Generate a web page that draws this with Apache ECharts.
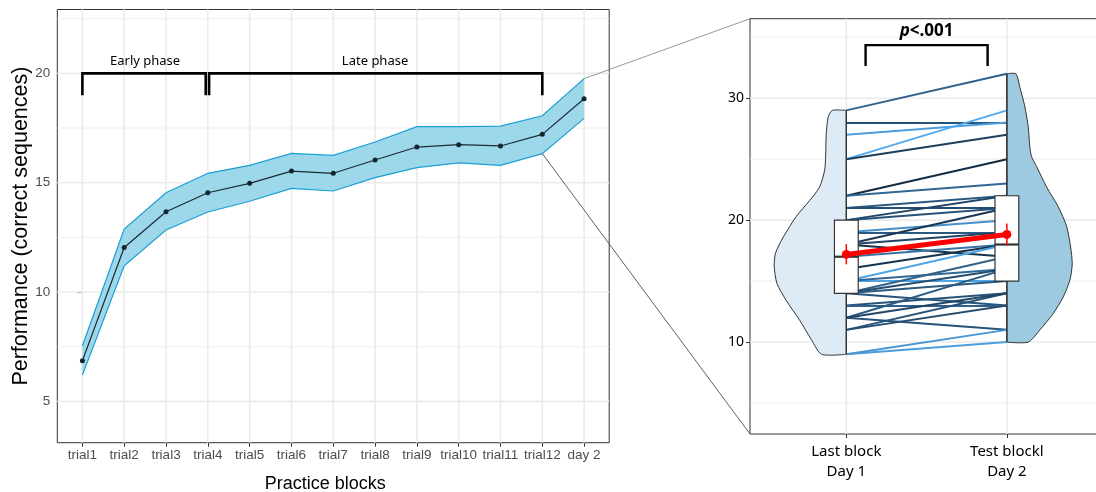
<!DOCTYPE html>
<html>
<head>
<meta charset="utf-8">
<script src="https://cdn.jsdelivr.net/npm/echarts@6/dist/echarts.min.js"></script>
<style>html,body{margin:0;padding:0;background:#fff}#c{width:1096px;height:492px}</style>
</head>
<body>
<div id="c"></div>
<script>
// ---------- Left panel data ----------
const blocks = ['trial1','trial2','trial3','trial4','trial5','trial6','trial7','trial8','trial9','trial10','trial11','trial12','day 2'];
const meanPerf  = [6.86, 12.04, 13.67, 14.54, 14.97, 15.53, 15.43, 16.04, 16.63, 16.74, 16.68, 17.21, 18.84];
const upperPerf = [7.53, 12.88, 14.54, 15.43, 15.79, 16.34, 16.25, 16.86, 17.56, 17.56, 17.59, 18.06, 19.76];
const lowerPerf = [6.20, 11.20, 12.84, 13.66, 14.15, 14.74, 14.62, 15.23, 15.69, 15.91, 15.79, 16.33, 17.94];
const leftYMajor = [5, 10, 15, 20];
const leftYMinor = [7.5, 12.5, 17.5, 22.5];
const phaseNames = ['Early phase', 'Late phase'];
const phaseFrom = [0, 3];     // block index
const phaseTo   = [3, 11];
const phaseTop = 20, phaseBottom = 19, phaseLabelY = 20.56;

// ---------- Right panel data ----------
const sessions = ['Last block\nDay 1', 'Test blockl\nDay 2'];
const day1 = [29, 28, 27, 25, 25, 22, 22, 21, 21, 20, 20, 19, 19, 18, 18, 18, 17, 16, 15, 15, 15, 14, 14, 14, 14, 13, 13, 12, 12, 11, 11, 12, 9, 9];
const day2 = [32, 28, 28, 29, 27, 25, 23, 22, 21, 22, 21, 20, 19, 21, 19, 17, 18, 18, 18, 15, 16, 17, 16, 13, 15, 14, 13, 16, 11, 14, 13, 14, 10, 11];
const pairShade = [0.40, 0.30, 0.85, 0.95, 0.15, 0.00, 0.45, 0.35, 0.25, 0.20, 0.30, 0.75, 0.35, 0.10, 0.20, 0.05, 0.55, 0.05, 0.90, 0.90, 0.45, 0.40, 0.25, 0.30, 0.35, 0.30, 0.40, 0.35, 0.30, 0.30, 0.25, 0.20, 0.85, 0.80];
const violin1Y = [29.0, 28.5, 27.1, 25.2, 24.1, 22.7, 21.6, 20.3, 18.6, 17.3, 16.2, 14.8, 13.4, 11.8, 10.2, 9.0];
const violin1W = [0.087, 0.112, 0.125, 0.129, 0.135, 0.167, 0.229, 0.312, 0.393, 0.441, 0.449, 0.432, 0.374, 0.291, 0.218, 0.154];
const violin2Y = [32.0, 30.9, 29.3, 27.65, 26.0, 25.2, 24.4, 22.7, 21.1, 19.5, 17.8, 16.4, 15.1, 13.7, 12.35, 11.0, 10.0];
const violin2W = [0.056, 0.081, 0.112, 0.133, 0.143, 0.154, 0.185, 0.248, 0.320, 0.372, 0.397, 0.407, 0.393, 0.351, 0.289, 0.206, 0.133];
const boxQ1 = [14, 15], boxMed = [17, 18], boxQ3 = [20, 22];
const whiskerLo = [9, 10], whiskerHi = [29, 32];
const sessionMean = [17.19, 18.83];
const sessionCiLow = [16.37, 17.95];
const sessionCiHigh = [18.03, 19.73];
const rightYMajor = [10, 20, 30];
const rightYMinor = [5, 15, 25, 35];
const pText = 'p<.001';
const pFrom = 1.12, pTo = 1.88, pTop = 34.35, pBottom = 32.65, pLabelY = 35.52;

// ---------- styling / layout ----------
const L = {left: 57.3, top: 9.5, width: 551.9, height: 433.2, xmin: -0.6, xmax: 12.6, ymin: 3.11, ymax: 22.92};
const R = {left: 750, top: 18.7, width: 353.2, height: 415.3, xmin: 0.4, xmax: 2.6, ymin: 2.46, ymax: 36.52};
const GRID = '#EBEBEB';
function shade(c) {
  const a = [19, 43, 67], b = [86, 177, 247];
  return 'rgb(' + a.map((v, i) => Math.round(v + (b[i] - v) * c)).join(',') + ')';
}
function hGrid(gi, major, minor) {
  return {
    type: 'custom', xAxisIndex: gi, yAxisIndex: gi, z: 1, silent: true,
    data: major.map(v => [0, v, 1]).concat(minor.map(v => [0, v, 0])),
    encode: {x: 0, y: 1},
    renderItem: (params, api) => {
      const cs = params.coordSys;
      const y = api.coord([api.value(0), api.value(1)])[1];
      return {type: 'line', shape: {x1: cs.x, y1: y, x2: cs.x + cs.width, y2: y},
        style: {stroke: GRID, lineWidth: api.value(2) ? 1.6 : 0.8}};
    }
  };
}
function vGrid(gi, xs, yRef) {
  return {
    type: 'custom', xAxisIndex: gi, yAxisIndex: gi, z: 1, silent: true,
    data: xs.map(x => [x, yRef]),
    encode: {x: 0, y: 1},
    renderItem: (params, api) => {
      const cs = params.coordSys;
      const x = api.coord([api.value(0), api.value(1)])[0];
      return {type: 'line', shape: {x1: x, y1: cs.y, x2: x, y2: cs.y + cs.height},
        style: {stroke: GRID, lineWidth: 1.6}};
    }
  };
}
const idx = blocks.map((b, i) => i);
const sessIdx = sessions.map((s, i) => i + 1);

const chart = echarts.init(document.getElementById('c'), null, {renderer: 'canvas'});
const option = {
  animation: false,
  backgroundColor: '#fff',
  grid: [
    {left: L.left, top: L.top, width: L.width, height: L.height, outerBoundsMode: 'none', containLabel: false, show: true, borderColor: '#333', borderWidth: 1, backgroundColor: '#fff'},
    {left: R.left, top: R.top, width: R.width, height: R.height, outerBoundsMode: 'none', containLabel: false, show: true, borderColor: '#333', borderWidth: 1, backgroundColor: '#fff'}
  ],
  xAxis: [
    {type: 'value', gridIndex: 0, min: L.xmin, max: L.xmax,
      name: 'Practice blocks', nameLocation: 'middle', nameGap: 32, nameMoveOverlap: false,
      nameTextStyle: {fontFamily: 'Liberation Sans', fontSize: 18, color: '#000', padding: [0, 16, 0, 0]},
      axisLine: {show: false}, splitLine: {show: false},
      axisTick: {show: true, length: 4, customValues: idx, lineStyle: {color: '#333'}},
      axisLabel: {customValues: idx, margin: 6, formatter: v => blocks[Math.round(v)], fontFamily: 'Liberation Sans', fontSize: 13.5, color: '#4D4D4D'}},
    {type: 'value', gridIndex: 1, min: R.xmin, max: R.xmax,
      axisLine: {show: false}, splitLine: {show: false},
      axisTick: {show: true, length: 4, customValues: sessIdx, lineStyle: {color: '#333'}},
      axisLabel: {customValues: sessIdx, margin: 8, formatter: v => sessions[Math.round(v) - 1], fontFamily: 'Noto Sans', fontSize: 15, lineHeight: 19.5, color: '#000', align: 'center'}}
  ],
  yAxis: [
    {type: 'value', gridIndex: 0, min: L.ymin, max: L.ymax,
      name: 'Performance (correct sequences)', nameLocation: 'middle', nameGap: 25.5, nameMoveOverlap: false,
      nameTextStyle: {fontFamily: 'Liberation Sans', fontSize: 21.5, color: '#000'},
      axisLine: {show: false}, splitLine: {show: false},
      axisTick: {show: true, length: 5, customValues: leftYMajor, lineStyle: {color: '#333'}},
      axisLabel: {customValues: leftYMajor, margin: 7, fontFamily: 'Liberation Sans', fontSize: 13.5, color: '#4D4D4D'}},
    {type: 'value', gridIndex: 1, min: R.ymin, max: R.ymax,
      axisLine: {show: false}, splitLine: {show: false},
      axisTick: {show: true, length: 4, customValues: rightYMajor, lineStyle: {color: '#333'}},
      axisLabel: {customValues: rightYMajor, margin: 6, fontFamily: 'Noto Sans', fontSize: 14, color: '#000'}}
  ],
  series: [
    hGrid(0, leftYMajor, leftYMinor),
    vGrid(0, idx, 10),
    hGrid(1, rightYMajor, rightYMinor),
    vGrid(1, sessIdx, 20),
    // confidence band
    {type: 'custom', xAxisIndex: 0, yAxisIndex: 0, z: 3, silent: true,
      data: [[0, meanPerf[0]]], encode: {x: 0, y: 1},
      renderItem: (params, api) => {
        const up = idx.map(i => api.coord([i, upperPerf[i]]));
        const lo = idx.map(i => api.coord([i, lowerPerf[i]]));
        return {type: 'group', children: [
          {type: 'polygon', shape: {points: up.concat(lo.slice().reverse())}, style: {fill: '#9DD7EA', stroke: null}},
          {type: 'polyline', shape: {points: up}, style: {stroke: '#1A9FD6', lineWidth: 1.2, fill: null}},
          {type: 'polyline', shape: {points: lo}, style: {stroke: '#1A9FD6', lineWidth: 1.2, fill: null}}
        ]};
      }},
    {type: 'line', xAxisIndex: 0, yAxisIndex: 0, z: 4, silent: true,
      data: idx.map(i => [i, meanPerf[i]]),
      symbol: 'circle', symbolSize: 5, showSymbol: true,
      lineStyle: {color: '#1C2B36', width: 1.2}, itemStyle: {color: '#15252F'}},
    // phase brackets
    {type: 'custom', xAxisIndex: 0, yAxisIndex: 0, z: 5, silent: true,
      data: phaseNames.map((n, i) => [phaseFrom[i], phaseTop]), encode: {x: 0, y: 1},
      renderItem: (params, api) => {
        const i = params.dataIndex;
        const s = phaseFrom[i] + (i > 0 ? 0.03 : 0);
        const e = phaseTo[i] - (i < phaseNames.length - 1 ? 0.05 : 0);
        const pts = [[s, phaseBottom], [s, phaseTop], [e, phaseTop], [e, phaseBottom]].map(p => api.coord(p));
        const t = api.coord([(phaseFrom[i] + phaseTo[i]) / 2, phaseLabelY]);
        return {type: 'group', children: [
          {type: 'polyline', shape: {points: pts}, style: {stroke: '#000', lineWidth: 2.6, fill: null}},
          {type: 'text', x: t[0], y: t[1], style: {text: phaseNames[i], fontFamily: 'Noto Sans', fontSize: 13, fill: '#000', align: 'center', verticalAlign: 'middle'}}
        ]};
      }},
    // violins
    {type: 'custom', xAxisIndex: 1, yAxisIndex: 1, z: 3, silent: true,
      data: [[1, 20], [2, 20]], encode: {x: 0, y: 1},
      renderItem: (params, api) => {
        const i = params.dataIndex;
        const ys = i === 0 ? violin1Y : violin2Y;
        const ws = i === 0 ? violin1W : violin2W;
        const side = i === 0 ? -1 : 1;
        const cx = i + 1;
        const pts = [api.coord([cx, ys[0]])];
        ys.forEach((y, k) => pts.push(api.coord([cx + side * ws[k], y])));
        pts.push(api.coord([cx, ys[ys.length - 1]]));
        return {type: 'group', children: [
          {type: 'polyline', shape: {points: pts, smooth: 0.25}, style: {fill: i === 0 ? '#DEEBF7' : '#9ECAE1', stroke: '#333', lineWidth: 1}},
          {type: 'line', shape: {x1: pts[0][0], y1: pts[0][1], x2: pts[pts.length - 1][0], y2: pts[pts.length - 1][1]}, style: {stroke: '#333', lineWidth: 1.2}}
        ]};
      }},
    // paired lines
    {type: 'lines', coordinateSystem: 'cartesian2d', xAxisIndex: 1, yAxisIndex: 1, z: 4, silent: true,
      data: day1.map((v, k) => ({coords: [[1, v], [2, day2[k]]], lineStyle: {color: shade(pairShade[k])}})),
      lineStyle: {width: 2, opacity: 1}},
    // boxes
    {type: 'custom', xAxisIndex: 1, yAxisIndex: 1, z: 5, silent: true,
      data: [[1, boxMed[0]], [2, boxMed[1]]], encode: {x: 0, y: 1},
      renderItem: (params, api) => {
        const i = params.dataIndex, cx = i + 1, hw = 0.074;
        const a = api.coord([cx - hw, boxQ3[i]]), b = api.coord([cx + hw, boxQ1[i]]);
        const m1 = api.coord([cx - hw, boxMed[i]]), m2 = api.coord([cx + hw, boxMed[i]]);
        const wl = api.coord([cx, whiskerLo[i]]), wh = api.coord([cx, whiskerHi[i]]);
        return {type: 'group', children: [
          {type: 'line', shape: {x1: wh[0], y1: wh[1], x2: wh[0], y2: a[1]}, style: {stroke: '#333', lineWidth: 1.2}},
          {type: 'line', shape: {x1: wl[0], y1: wl[1], x2: wl[0], y2: b[1]}, style: {stroke: '#333', lineWidth: 1.2}},
          {type: 'rect', shape: {x: a[0], y: a[1], width: b[0] - a[0], height: b[1] - a[1]}, style: {fill: '#fff', stroke: '#333', lineWidth: 1.2}},
          {type: 'line', shape: {x1: m1[0], y1: m1[1], x2: m2[0], y2: m2[1]}, style: {stroke: '#333', lineWidth: 2.2}}
        ]};
      }},
    // error bars of the mean
    {type: 'custom', xAxisIndex: 1, yAxisIndex: 1, z: 6, silent: true,
      data: [[1, sessionMean[0]], [2, sessionMean[1]]], encode: {x: 0, y: 1},
      renderItem: (params, api) => {
        const i = params.dataIndex;
        const lo = api.coord([i + 1, sessionCiLow[i]]), hi = api.coord([i + 1, sessionCiHigh[i]]);
        return {type: 'line', shape: {x1: lo[0], y1: lo[1], x2: hi[0], y2: hi[1]}, style: {stroke: '#FF0000', lineWidth: 1.5}};
      }},
    {type: 'line', xAxisIndex: 1, yAxisIndex: 1, z: 7, silent: true,
      data: sessionMean.map((m, i) => [i + 1, m]),
      symbol: 'circle', symbolSize: 9, showSymbol: true,
      lineStyle: {color: '#FF0000', width: 5}, itemStyle: {color: '#FF0000'}},
    // significance bracket
    {type: 'custom', xAxisIndex: 1, yAxisIndex: 1, z: 7, silent: true,
      data: [[1.5, pTop]], encode: {x: 0, y: 1},
      renderItem: (params, api) => {
        const pts = [[pFrom, pBottom], [pFrom, pTop], [pTo, pTop], [pTo, pBottom]].map(p => api.coord(p));
        const t = api.coord([(pFrom + pTo) / 2, pLabelY]);
        return {type: 'group', children: [
          {type: 'polyline', shape: {points: pts}, style: {stroke: '#000', lineWidth: 2.4, fill: null}},
          {type: 'text', x: t[0], y: t[1], style: {text: '{i|' + pText.slice(0, 1) + '}{b|' + pText.slice(1) + '}', align: 'center', verticalAlign: 'middle',
            rich: {i: {fontFamily: 'Noto Sans', fontSize: 17, fontWeight: 'bold', fontStyle: 'italic', fill: '#000'},
                   b: {fontFamily: 'Noto Sans', fontSize: 17, fontWeight: 'bold', fill: '#000'}}}}
        ]};
      }}
  ]
};
chart.setOption(option);

// connector lines between panels
const last = blocks.length - 1;
const pUp = chart.convertToPixel({gridIndex: 0}, [last, upperPerf[last]]);
const pLo = chart.convertToPixel({gridIndex: 0}, [last - 1, lowerPerf[last - 1]]);
const cTop = chart.convertToPixel({gridIndex: 1}, [R.xmin, R.ymax]);
const cBot = chart.convertToPixel({gridIndex: 1}, [R.xmin, R.ymin]);
chart.setOption({graphic: [
  {type: 'line', z: 100, silent: true, shape: {x1: pUp[0], y1: pUp[1], x2: cTop[0], y2: cTop[1]}, style: {stroke: '#8C8C8C', lineWidth: 0.9}},
  {type: 'line', z: 100, silent: true, shape: {x1: pLo[0], y1: pLo[1], x2: cBot[0], y2: cBot[1]}, style: {stroke: '#4D4D4D', lineWidth: 0.9}}
]});
</script>
</body>
</html>
